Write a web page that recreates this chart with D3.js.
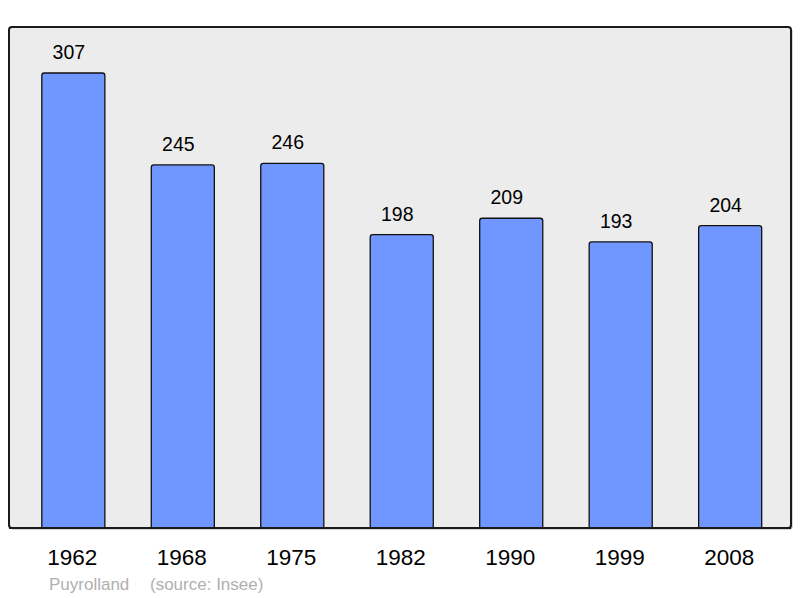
<!DOCTYPE html>
<html>
<head>
<meta charset="utf-8">
<script src="https://cdn.jsdelivr.net/npm/d3@7"></script>
<style>
html,body{margin:0;padding:0;background:#fff;}
svg{display:block;font-family:"Liberation Sans",Arial,sans-serif;}
</style>
</head>
<body>
<svg id="chart" width="800" height="598"></svg>
<script>
const years = ["1962","1968","1975","1982","1990","1999","2008"];
const population = [307,245,246,198,209,193,204];
const footerPlace = "Puyrolland";
const footerSource = "(source: Insee)";

const svg = d3.select("#chart");
const panel = {x0: 9, x1: 791, y0: 27, y1: 528};

const x = d3.scaleBand().domain(years).range([18.6, 784.9]).paddingInner(0.424).paddingOuter(0.212);
const y = d3.scaleLinear().domain([0, 307]).range([panel.y1, 73]);

// shadow
svg.append("rect")
  .attr("x", panel.x0 + 1.5).attr("y", panel.y0 + 1.5)
  .attr("width", panel.x1 - panel.x0).attr("height", panel.y1 - panel.y0)
  .attr("rx", 3).attr("fill", "#555").attr("opacity", 0.5);

svg.append("rect")
  .attr("x", panel.x0).attr("y", panel.y0)
  .attr("width", panel.x1 - panel.x0).attr("height", panel.y1 - panel.y0)
  .attr("rx", 3).attr("fill", "#ececec").attr("stroke", "#1a1a1a").attr("stroke-width", 2);

const data = years.map((yr, i) => ({year: yr, value: population[i]}));

function barPath(d) {
  const x0 = x(d.year), w = x.bandwidth(), top = y(d.value), bot = y(0), r = 2.5;
  return `M${x0},${bot}V${top + r}Q${x0},${top} ${x0 + r},${top}H${x0 + w - r}Q${x0 + w},${top} ${x0 + w},${top + r}V${bot}`;
}

svg.append("g").selectAll("path").data(data).join("path")
  .attr("d", barPath)
  .attr("fill", "#7096ff")
  .attr("stroke", "#111")
  .attr("stroke-width", 1.3);

// redraw panel bottom border over bars
svg.append("line")
  .attr("x1", panel.x0).attr("x2", panel.x1)
  .attr("y1", panel.y1).attr("y2", panel.y1)
  .attr("stroke", "#1a1a1a").attr("stroke-width", 2);

svg.append("g").selectAll("text").data(data).join("text")
  .attr("x", d => x(d.year) + x.bandwidth() / 2 - 4.5)
  .attr("y", d => y(d.value) - 14)
  .attr("text-anchor", "middle")
  .attr("font-size", 19.5)
  .attr("fill", "#000")
  .text(d => d.value);

svg.append("g").selectAll("text").data(years).join("text")
  .attr("x", d => x(d) + x.bandwidth() / 2 - 1)
  .attr("y", 565)
  .attr("text-anchor", "middle")
  .attr("font-size", 22.5)
  .attr("fill", "#000")
  .text(d => d);

svg.append("text").attr("x", 49).attr("y", 590)
  .attr("font-size", 17).attr("fill", "#b0b0b0").text(footerPlace);
svg.append("text").attr("x", 150).attr("y", 590)
  .attr("font-size", 17).attr("fill", "#b0b0b0").text(footerSource);
</script>
</body>
</html>
